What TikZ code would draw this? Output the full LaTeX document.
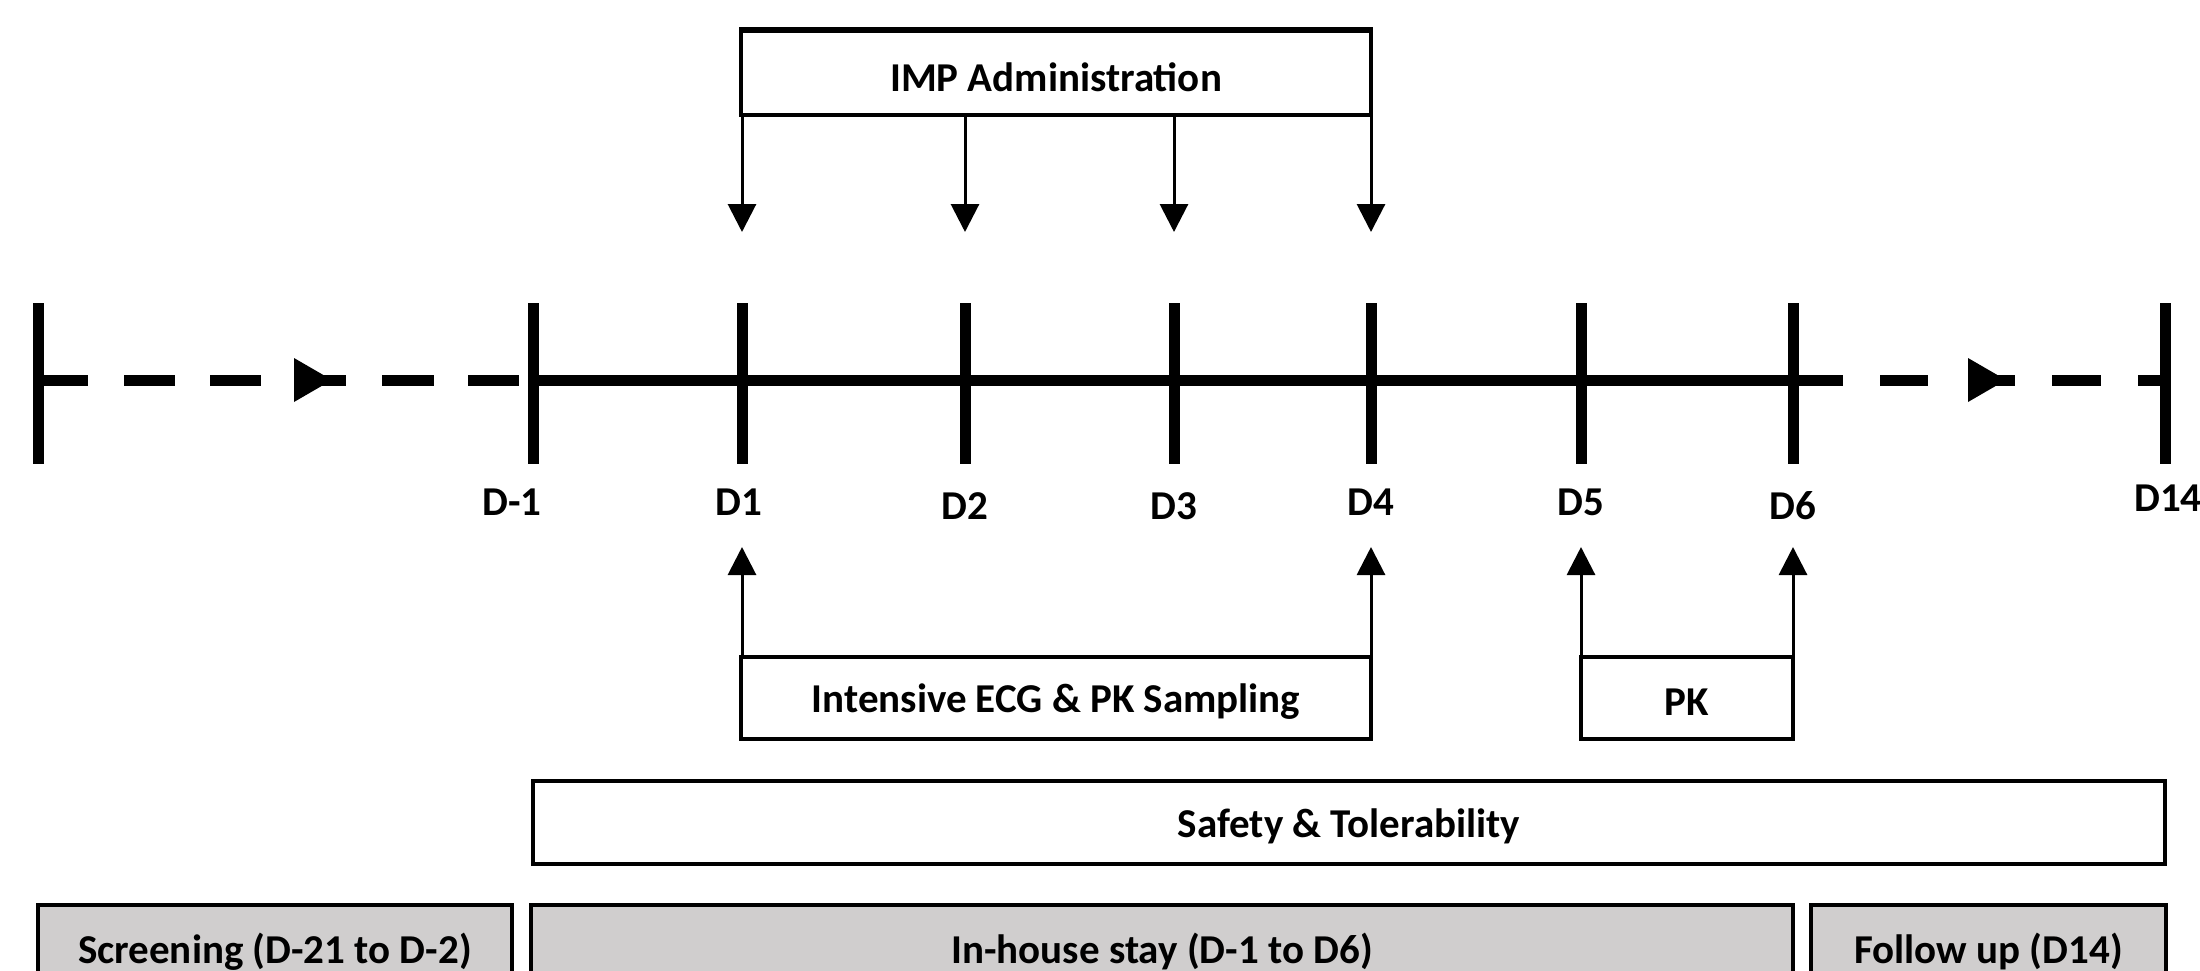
\documentclass[tikz,border=0pt]{standalone}
\usepackage{fontspec}
\setmainfont{Carlito}
\usetikzlibrary{arrows.meta}
\definecolor{gray1}{HTML}{D0CECE}
\begin{document}
\begin{tikzpicture}[x=0.5pt,y=-0.5pt,
  lbl/.style={font=\fontsize{20.5}{24}\selectfont\bfseries, inner sep=0pt},
  boxw/.style={draw, line width=1.6pt, fill=white, inner sep=0pt},
  boxg/.style={draw, line width=1.8pt, fill=gray1, inner sep=0pt},
  txt/.style={label={[lbl, yshift=-2pt]center:#1}},
  tl/.style={line width=5.5pt, line cap=butt},
  arr/.style={line width=1.5pt, -{Triangle[width=14pt,length=14pt]}}]
\useasboundingbox (0,0) rectangle (2200,970);
\clip (0,0) rectangle (2200,970);

% tick coordinates (on the time line)
\foreach \n/\x in {s/38,m1/533,d1/742,d2/965,d3/1174,d4/1371,d5/1581,d6/1793,d14/2165}{
  \coordinate (t\n) at (\x,380);
  \coordinate (tt\n) at (\x,303);
  \coordinate (tb\n) at (\x,464);
}
% ticks
\foreach \n in {s,m1,d1,d2,d3,d4,d5,d6,d14}{
  \draw[tl] (tt\n) -- (tb\n);
}
% solid part of time line
\coordinate (solidend) at (1843,380);
\draw[tl] (tm1) -- (solidend);
% left dashed part
\foreach \a/\b in {38/88,124/175,210/261,310/346,382/434,468/519}{
  \draw[tl] (\a,380) -- (\b,380);
}
\fill (294,358) -- (332,380) -- (294,402) -- cycle;
% right dashed part
\foreach \a/\b in {1880/1928,1985/2015,2052/2101,2138/2165}{
  \draw[tl] (\a,380) -- (\b,380);
}
\fill (1968,358) -- (2006,380) -- (1968,402) -- cycle;

% day labels
\node[lbl] (lm1) at (512,502) {D-1};
\node[lbl] (ld1) at (739,502) {D1};
\node[lbl] (ld2) at (965,506) {D2};
\node[lbl] (ld3) at (1174,506) {D3};
\node[lbl] (ld4) at (1371,502) {D4};
\node[lbl] (ld5) at (1581,502) {D5};
\node[lbl] (ld6) at (1793,506) {D6};
\node[lbl] (ld14) at (2168,498) {D14};

% IMP administration
\node[boxw, minimum width=315pt, minimum height=42pt, txt={IMP Administration}] (imp) at (1056,73) {};
\draw[line width=2.2pt] (imp.north west) -- (imp.north east);
\foreach \n/\x in {d1/742,d2/965,d3/1174,d4/1371}{
  \coordinate (dn\n) at (\x,232);
  \draw[arr] (imp.south -| dn\n) -- (dn\n);
}

% ECG & PK
\node[boxw, minimum width=315pt, minimum height=41pt, txt={Intensive ECG \& PK Sampling}] (ecg) at (1056,698) {};
\node[boxw, minimum width=106pt, minimum height=41pt, txt={PK}] (pk) at (1687,698) {};
\coordinate (up1) at (742,547);
\coordinate (up4) at (1371,547);
\coordinate (up5) at (1581,547);
\coordinate (up6) at (1793,547);
\draw[arr] (ecg.north -| up1) -- (up1);
\draw[arr] (ecg.north -| up4) -- (up4);
\draw[arr] (pk.north -| up5) -- (up5);
\draw[arr] (pk.north -| up6) -- (up6);

% safety
\node[boxw, minimum width=816pt, minimum height=41.5pt, txt={Safety \& Tolerability}] (saf) at (1349,822.5) {};

% phases
\node[boxg, minimum width=237pt, minimum height=42.5pt, txt={Screening (D-21 to D-2)}] (scr) at (275,947.5) {};
\node[boxg, minimum width=631pt, minimum height=42.5pt, txt={In-house stay (D-1 to D6)}] (inh) at (1162,947.5) {};
\node[boxg, minimum width=177.5pt, minimum height=42.5pt, txt={Follow up (D14)}] (fol) at (1988.5,947.5) {};
\end{tikzpicture}
\end{document}
